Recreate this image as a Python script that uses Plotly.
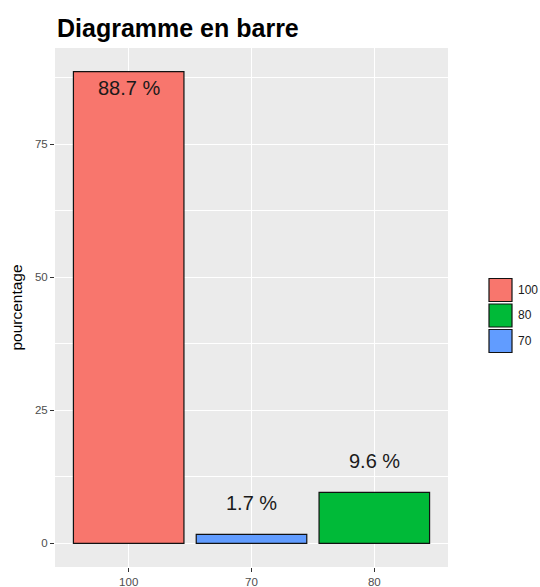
import plotly.graph_objects as go

categories = ["100", "70", "80"]
values = [88.7, 1.7, 9.6]
bar_colors = ["#F8766D", "#619CFF", "#00BA38"]
labels = ["88.7 %", "1.7 %", "9.6 %"]
legend_order = ["100", "80", "70"]
y_ticks = [0, 25, 50, 75]

W, H = 540, 587
L, R, T, B = 55, 92, 48, 20
pw, ph = W - L - R, H - T - B
FONT = "Liberation Sans, Arial, Helvetica"

fig = go.Figure()
fig.add_trace(go.Bar(
    x=categories, y=values, width=0.9,
    marker=dict(color=bar_colors, line=dict(color="#111111", width=1.2)),
    showlegend=False, hoverinfo="x+y",
))

for i, (v, t) in enumerate(zip(values, labels)):
    inside = v > 50
    fig.add_annotation(x=i, y=v, xref="x", yref="y", text=t, showarrow=False,
                       yanchor="middle", yshift=-16 if inside else 31,
                       font=dict(family=FONT, size=20, color="#1a1a1a"))

# ggplot-style legend drawn manually
cmap = dict(zip(categories, bar_colors))
box = 23
for i, cat in enumerate(legend_order):
    cy = 290 + i * 25.5
    x0, x1 = 489, 489 + box
    fig.add_shape(type="rect", xref="paper", yref="paper",
                  x0=(x0 - L) / pw, x1=(x1 - L) / pw,
                  y0=(H - B - (cy + box / 2)) / ph, y1=(H - B - (cy - box / 2)) / ph,
                  fillcolor=cmap[cat], line=dict(color="#111111", width=1.2))
    fig.add_annotation(xref="paper", yref="paper", x=(516 - L) / pw, y=(H - B - cy) / ph,
                       text=cat, showarrow=False, xanchor="left", yanchor="middle",
                       font=dict(family=FONT, size=12, color="#1a1a1a"))

fig.update_layout(
    width=W, height=H,
    margin=dict(l=L, r=R, t=T, b=B, autoexpand=False),
    paper_bgcolor="white", plot_bgcolor="#EBEBEB",
    title=dict(text="<b>Diagramme en barre</b>", x=(57 - L) / pw, xref="paper",
               xanchor="left", y=1 - 28 / H, yref="container", yanchor="middle",
               font=dict(family=FONT, size=25, color="black")),
    font=dict(family=FONT),
    bargap=0.1,
)
fig.update_xaxes(range=[-0.6, 2.6], showgrid=True, gridcolor="white", gridwidth=1.1,
                 zeroline=False, showline=False, ticks="outside", ticklen=4,
                 tickcolor="#333333", tickwidth=1,
                 tickfont=dict(size=11.5, color="#4D4D4D"))
fig.update_yaxes(range=[-4.435, 93.135], tickvals=y_ticks, showgrid=True,
                 gridcolor="white", gridwidth=1.1, zeroline=False, showline=False,
                 ticks="outside", ticklen=4, tickcolor="#333333", tickwidth=1,
                 tickfont=dict(size=11.5, color="#4D4D4D"),
                 minor=dict(tick0=0, dtick=12.5, showgrid=True, gridcolor="white",
                            gridwidth=0.5, ticklen=0),
                 title=dict(text="pourcentage", standoff=8,
                            font=dict(size=15.5, color="black")))

fig.write_html("out.html", config={"displayModeBar": False},
               post_script="document.body.style.margin='0px';")
